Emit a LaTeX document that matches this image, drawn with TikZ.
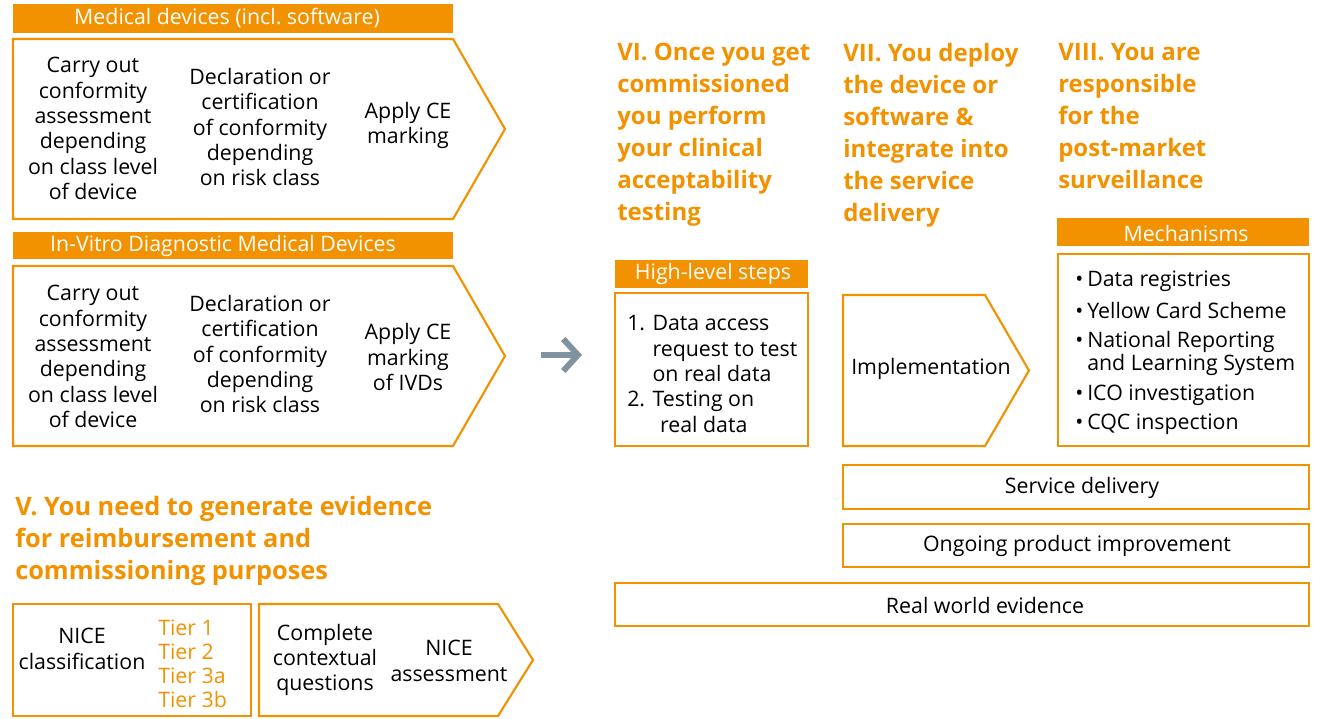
\documentclass[tikz,border=0pt]{standalone}
\usepackage{fontspec}
\setmainfont{Open Sans}
\usetikzlibrary{arrows.meta}

\definecolor{fhorange}{RGB}{242,146,0}
\definecolor{arrowgray}{RGB}{128,147,160}

\newcommand{\mechitem}{\makebox[9pt][l]{\textbullet}}

\begin{document}
\begin{tikzpicture}[x=0.75pt, y=-0.75pt,
	box/.style={draw=fhorange, line width=1.6pt, line join=miter},
	bar/.style={fill=fhorange},
	bartxt/.style={inner sep=0pt, text=white, font=\fontsize{16}{19}\selectfont},
	txt/.style={inner sep=0pt, align=center, font=\fontsize{16}{19}\selectfont},
	listtxt/.style={inner sep=0pt, align=left, font=\fontsize{16}{19}\selectfont},
	tiertxt/.style={inner sep=0pt, align=left, text=fhorange, font=\fontsize{16}{18}\selectfont},
	heading/.style={inner sep=0pt, align=left, anchor=north west, text=fhorange, font=\bfseries\fontsize{18}{24}\selectfont},
	garrow/.style={draw=arrowgray, line width=4.5pt, -{Straight Barb[length=11pt, width=24pt]}}]

	\useasboundingbox (0,0) rectangle (1323,718);

	% medical devices
	\fill[bar] (13,4) rectangle (453,33);
	\node[bartxt] (mdhead) at (227,18.5) {Medical devices (incl.\ software)};
	\draw[box] (13,39) -- (453,39) -- (505,129) -- (453,219) -- (13,219) -- cycle;
	\node[txt] (mdassess) at (93,128.5) {Carry out\\conformity\\assessment\\depending\\on class level\\of device};
	\node[txt] (mddecl) at (260,127) {Declaration or\\certification\\of conformity\\depending\\on risk class};
	\node[txt] (mdce) at (408,125.5) {Apply CE\\marking};

	% in-vitro diagnostic devices
	\fill[bar] (13,232) rectangle (453,259);
	\node[bartxt] (ivdhead) at (223,245.5) {In-Vitro Diagnostic Medical Devices};
	\draw[box] (13,266) -- (453,266) -- (505,356) -- (453,446) -- (13,446) -- cycle;
	\node[txt] (ivdassess) at (93,356.5) {Carry out\\conformity\\assessment\\depending\\on class level\\of device};
	\node[txt] (ivddecl) at (260,354) {Declaration or\\certification\\of conformity\\depending\\on risk class};
	\node[txt] (ivdce) at (408,357) {Apply CE\\marking\\of IVDs};

	% step V
	\node[heading, font=\bfseries\fontsize{19}{24}\selectfont] (headV) at (15,496) {V. You need to generate evidence\\for reimbursement and\\commissioning purposes};
	\draw[box] (13,604) rectangle (251,716);
	\node[txt] (niceclass) at (82,649) {NICE\\classification};
	\node[tiertxt, anchor=west] (tiers) at (158,664) {Tier 1\\Tier 2\\Tier 3a\\Tier 3b};
	\draw[box] (259,604) -- (498,604) -- (533,660) -- (498,716) -- (259,716) -- cycle;
	\node[txt] (context) at (325,660) {Complete\\contextual\\questions};
	\node[txt] (niceassess) at (449,661) {NICE\\assessment};

	% arrow
	\coordinate (arrS) at (541,355);
	\coordinate (arrE) at (582,355);
	\draw[garrow] (arrS) -- (arrE);

	% steps VI to VIII
	\node[heading] (headVI) at (617,43) {VI. Once you get\\commissioned\\you perform\\your clinical\\acceptability\\testing};
	\node[heading] (headVII) at (843,43) {VII. You deploy\\the device or\\software \&\\integrate into\\the service\\delivery};
	\node[heading] (headVIII) at (1058,43) {VIII. You are\\responsible\\for the\\post-market\\surveillance};

	\fill[bar] (615,260) rectangle (808,288);
	\node[bartxt] (stepshead) at (713,274) {High-level steps};
	\draw[box] (615,293) rectangle (808,446);
	\node[listtxt, anchor=west] (steps) at (627,374) {1. Data access\\\phantom{1. }request to test\\\phantom{1. }on real data\\2. Testing on\\\phantom{2. t}real data};

	\draw[box] (843,295) -- (985,295) -- (1029,370.5) -- (985,446) -- (843,446) -- cycle;
	\node[txt] (impl) at (931,369) {Implementation};

	\fill[bar] (1057,218) rectangle (1309,246);
	\node[bartxt] (mechhead) at (1186,233) {Mechanisms};
	\draw[box] (1058,254) rectangle (1309,446);
	\node[listtxt, anchor=west, font=\fontsize{16}{15.8}\selectfont] (mech) at (1075,353) {\mechitem Data registries\\[6.4pt]\mechitem Yellow Card Scheme\\[6.4pt]\mechitem National Reporting\\\phantom{\mechitem}and Learning System\\[6.4pt]\mechitem ICO investigation\\[6.4pt]\mechitem CQC inspection};

	% bottom bands
	\draw[box] (843,465) rectangle (1309,509);
	\node[txt] (service) at (1082,488) {Service delivery};
	\draw[box] (843,524) rectangle (1309,567);
	\node[txt] (ongoing) at (1077,546) {Ongoing product improvement};
	\draw[box] (615,583) rectangle (1309,626);
	\node[txt] (rwe) at (985,605) {Real world evidence};

\end{tikzpicture}
\end{document}
